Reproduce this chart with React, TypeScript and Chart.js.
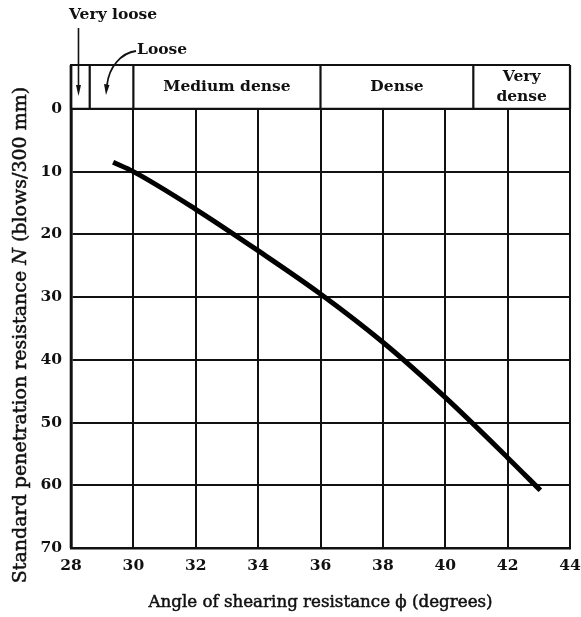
import React, { useEffect, useRef } from 'react';
import { Chart, registerables } from 'chart.js';

Chart.register(...registerables);

// ---- data ----
const phiDeg = [29.35, 30, 32, 34, 36, 38, 40, 42, 43.05];
const blowsN = [8.5, 10, 16.0, 22.6, 29.5, 37.2, 46.0, 55.6, 60.8];
const xTickValues = [28, 30, 32, 34, 36, 38, 40, 42, 44];
const yTickValues = [0, 10, 20, 30, 40, 50, 60, 70];
const bandBounds = [28, 28.6, 30, 36, 40.9, 44];
const bandLabels = [[], [], ['Medium dense'], ['Dense'], ['Very', 'dense']];
const bandTop = -7;
const xTitle = 'Angle of shearing resistance \u03D5 (degrees)';
const yTitleParts = ['Standard penetration resistance ', 'N', ' (blows/300 mm)'];
const veryLooseLabel = 'Very loose';
const looseLabel = 'Loose';

const INK = '#111';
const FONT = '"DejaVu Serif", serif';

const bandPlugin = {
  id: 'bandPlugin',
  afterDraw(chart: any) {
    const { ctx, chartArea: ca, scales } = chart;
    const xs = scales.x;
    const ys = scales.y;
    const top = ys.getPixelForValue(bandTop);
    const bot = ys.getPixelForValue(0);
    ctx.save();
    // clear band interior
    ctx.fillStyle = '#fff';
    ctx.fillRect(ca.left, top, ca.right - ca.left, bot - top);
    // band borders
    ctx.strokeStyle = INK;
    ctx.lineWidth = 2.2;
    ctx.beginPath();
    ctx.moveTo(ca.left, top);
    ctx.lineTo(ca.right, top);
    ctx.moveTo(ca.left, bot);
    ctx.lineTo(ca.right, bot);
    bandBounds.forEach((b) => {
      const px = xs.getPixelForValue(b);
      ctx.moveTo(px, top);
      ctx.lineTo(px, bot);
    });
    ctx.stroke();
    // left border full height
    ctx.lineWidth = 2.6;
    ctx.beginPath();
    ctx.moveTo(ca.left, ca.top);
    ctx.lineTo(ca.left, ca.bottom);
    ctx.stroke();

    // band labels
    ctx.fillStyle = INK;
    ctx.font = 'bold 15.5px ' + FONT;
    ctx.textAlign = 'center';
    ctx.textBaseline = 'middle';
    bandLabels.forEach((lines, i) => {
      if (!lines.length) return;
      const cx = (xs.getPixelForValue(bandBounds[i]) + xs.getPixelForValue(bandBounds[i + 1])) / 2;
      const cy = (top + bot) / 2;
      const lh = 20;
      lines.forEach((ln, j) => {
        ctx.fillText(ln, cx, cy + (j - (lines.length - 1) / 2) * lh);
      });
    });

    // "Very loose" label + arrow
    ctx.textAlign = 'left';
    ctx.fillText(veryLooseLabel, ca.left - 2, top - 50);
    const ax = xs.getPixelForValue(28.24);
    ctx.lineWidth = 1.6;
    ctx.beginPath();
    ctx.moveTo(ax, top - 37);
    ctx.lineTo(ax, bot - 22);
    ctx.stroke();
    ctx.beginPath();
    ctx.moveTo(ax - 2.5, bot - 24);
    ctx.lineTo(ax + 2.5, bot - 24);
    ctx.lineTo(ax, bot - 13);
    ctx.closePath();
    ctx.fill();

    // "Loose" label + curved arrow
    ctx.fillText(looseLabel, ca.left + 66, top - 15);
    ctx.lineWidth = 1.8;
    ctx.beginPath();
    ctx.moveTo(ca.left + 65, top - 14);
    ctx.bezierCurveTo(ca.left + 50, top - 12, ca.left + 38, top + 2, ca.left + 36, top + 20);
    ctx.stroke();
    ctx.beginPath();
    ctx.moveTo(ca.left + 33, top + 19);
    ctx.lineTo(ca.left + 38.5, top + 20);
    ctx.lineTo(ca.left + 35, top + 30);
    ctx.closePath();
    ctx.fill();

    // x title (slightly heavier than regular)
    ctx.textAlign = 'center';
    ctx.font = '16.7px ' + FONT;
    ctx.lineWidth = 0.5;
    ctx.fillText(xTitle, (ca.left + ca.right) / 2, 603);
    ctx.strokeText(xTitle, (ca.left + ca.right) / 2, 603);

    // y title (rotated, N italic)
    const fonts = ['19px ' + FONT, 'italic 19px ' + FONT, '19px ' + FONT];
    let total = 0;
    const widths = yTitleParts.map((t, i) => {
      ctx.font = fonts[i];
      const w = ctx.measureText(t).width;
      total += w;
      return w;
    });
    ctx.translate(21, 335);
    ctx.rotate(-Math.PI / 2);
    ctx.textAlign = 'left';
    let cx = -total / 2;
    yTitleParts.forEach((t, i) => {
      ctx.font = fonts[i];
      ctx.fillText(t, cx, 0);
      ctx.strokeText(t, cx, 0);
      cx += widths[i];
    });
    ctx.restore();
  },
};

export default function App() {
  const ref = useRef<HTMLCanvasElement>(null);
  useEffect(() => {
    if (!ref.current) return;
    const chart = new Chart(ref.current, {
      type: 'line',
      data: {
        datasets: [
          {
            data: phiDeg.map((p, i) => ({ x: p, y: blowsN[i] })),
            borderColor: '#000',
            borderWidth: 5,
            pointRadius: 0,
            cubicInterpolationMode: 'monotone',
            fill: false,
          },
        ],
      },
      options: {
        animation: false,
        responsive: true,
        maintainAspectRatio: false,
        layout: { padding: { top: 65, left: 41, right: 11, bottom: 39 } },
        plugins: { legend: { display: false }, tooltip: { enabled: false } },
        scales: {
          x: {
            type: 'linear',
            min: 28,
            max: 44,
            afterBuildTicks: (s: any) => {
              s.ticks = xTickValues.map((v) => ({ value: v }));
            },
            afterFit: (s: any) => {
              s.height = 30;
              s.paddingLeft = 0;
              s.paddingRight = 0;
            },
            grid: { color: INK, lineWidth: 2, drawTicks: false },
            border: { color: INK, width: 2.6 },
            ticks: {
              color: INK,
              padding: 9,
              maxRotation: 0,
              autoSkip: false,
              font: { family: FONT, size: 15.5, weight: 'bold' },
            },
          },
          y: {
            type: 'linear',
            reverse: true,
            min: bandTop,
            max: 70,
            afterBuildTicks: (s: any) => {
              s.ticks = yTickValues.map((v) => ({ value: v }));
            },
            afterFit: (s: any) => {
              s.width = 30;
            },
            grid: { color: INK, lineWidth: 2, drawTicks: false },
            border: { color: INK, width: 2.6 },
            ticks: {
              color: INK,
              padding: 9,
              autoSkip: false,
              font: { family: FONT, size: 15.5, weight: 'bold' },
            },
          },
        },
      },
      plugins: [bandPlugin],
    } as any);
    return () => chart.destroy();
  }, []);
  return (
    <div style={{ position: 'fixed', left: 0, top: 0, width: 581, height: 617, background: '#fff' }}>
      <canvas ref={ref} />
    </div>
  );
}
